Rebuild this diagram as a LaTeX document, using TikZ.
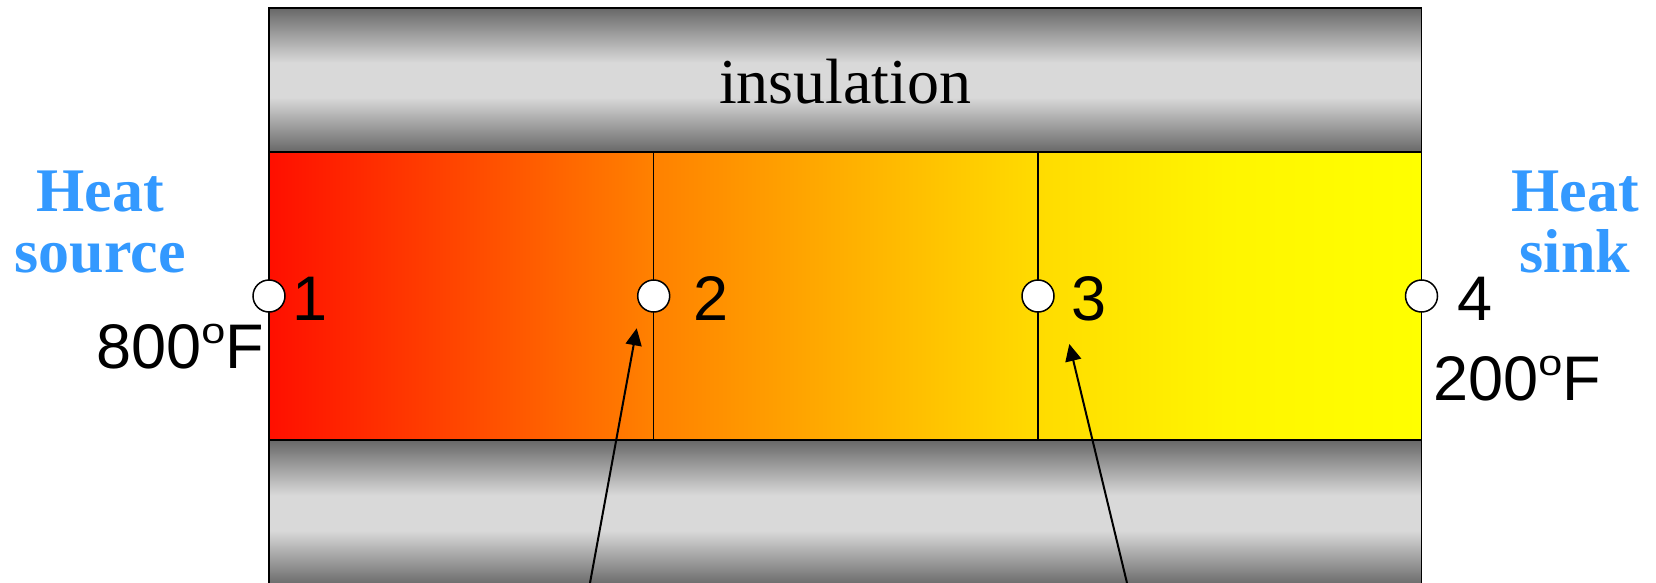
\documentclass[tikz,border=0pt]{standalone}
\usepackage{fontspec}
\setmainfont{Liberation Serif}
\newfontfamily\arialfont{Liberation Sans}
\usetikzlibrary{arrows.meta}
\definecolor{gdark}{RGB}{104,104,104}
\definecolor{glight}{RGB}{217,217,217}
\definecolor{heatblue}{RGB}{51,153,255}
\definecolor{hza}{RGB}{255,15,0}
\definecolor{hzb}{RGB}{255,72,0}
\definecolor{hzc}{RGB}{255,128,0}
\definecolor{hzd}{RGB}{255,175,0}
\definecolor{hze}{RGB}{255,220,0}
\definecolor{hzf}{RGB}{255,245,0}
\definecolor{hzg}{RGB}{255,255,0}
\pgfdeclareverticalshading{insulshade}{100bp}{color(0bp)=(gdark); color(25bp)=(gdark); color(44bp)=(glight); color(56bp)=(glight); color(75bp)=(gdark); color(100bp)=(gdark)}
\pgfdeclarehorizontalshading{heatshade}{100bp}{color(0bp)=(hza); color(25bp)=(hza); color(33.5bp)=(hzb); color(41.5bp)=(hzc); color(50bp)=(hzd); color(58.5bp)=(hze); color(66.5bp)=(hzf); color(75bp)=(hzg); color(100bp)=(hzg)}
\tikzset{
  insul/.style={shading=insulshade, draw=black, line width=1.5pt},
  heatbar/.style={shading=heatshade, draw=black, line width=1.5pt},
  divider/.style={draw=black, line width=1.5pt},
  probe/.style={circle, draw=black, fill=white, line width=1.5pt, minimum size=32pt, inner sep=0pt},
  numlabel/.style={anchor=base west, inner sep=0pt, font=\arialfont\fontsize{63}{63}\selectfont},
  templabel/.style={inner sep=0pt, font=\arialfont\fontsize{63}{63}\selectfont},
  sidelabel/.style={anchor=base, inner sep=0pt, text=heatblue, font=\bfseries\fontsize{62}{62}\selectfont},
  arr/.style={-{Triangle[length=17pt,width=16pt]}, line width=2pt},
}
\newcommand{\degsup}{\raisebox{25pt}{\scalebox{1.2}[1]{\fontsize{36}{36}\selectfont o}}}
\begin{document}
\begin{tikzpicture}[x=1pt,y=-1pt]
\useasboundingbox (0,0) rectangle (1656,583);
% insulation
\path[insul] (269,8) rectangle (1421.5,152);
\node[inner sep=0pt, anchor=base, font=\fontsize{64}{64}\selectfont] (ins) at (845.3,103) {insulation};
\path[insul] (269,440) rectangle (1421.5,586);
% bar
\path[heatbar] (269,152) rectangle (1421.5,440);
\coordinate (d2t) at (653.7,152);
\coordinate (d2b) at (653.7,440);
\coordinate (d3t) at (1038,152);
\coordinate (d3b) at (1038,440);
\draw[divider] (d2t) -- (d2b);
\draw[divider] (d3t) -- (d3b);
% probes
\node[probe] (p1) at (269,296) {};
\node[probe] (p2) at (653.7,296) {};
\node[probe] (p3) at (1038,296) {};
\node[probe] (p4) at (1421.5,296) {};
\node[numlabel] (n1) at (292,320) {1};
\node[numlabel] (n2) at (693,320) {2};
\node[numlabel] (n3) at (1071.5,320) {3};
\node[numlabel] (n4) at (1457,320) {4};
% temperatures
\node[templabel, anchor=base east] (t1) at (264,368) {800\degsup F};
\node[templabel, anchor=base west] (t4) at (1433,400) {200\degsup F};
% side labels
\node[sidelabel] (hs1) at (100,211) {Heat};
\node[sidelabel] (hs2) at (100,272) {source};
\node[sidelabel] (hk1) at (1575,211) {Heat};
\node[sidelabel] (hk2) at (1575,272) {sink};
% arrows
\coordinate (a1s) at (590,583);
\coordinate (a1e) at (636.7,328.3);
\coordinate (a2s) at (1127,583);
\coordinate (a2e) at (1069.3,344);
\draw[arr] (a1s) -- (a1e);
\draw[arr] (a2s) -- (a2e);
\end{tikzpicture}
\end{document}
